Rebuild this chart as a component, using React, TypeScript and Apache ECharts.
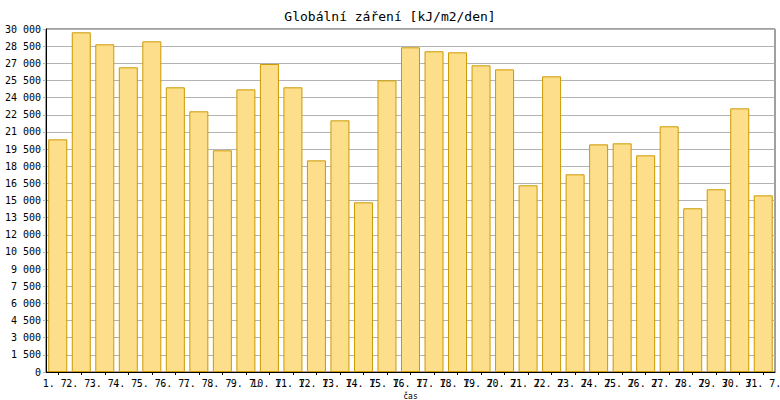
import React, { useEffect, useRef } from "react";
import * as echarts from "echarts";

const titleText = "Globální záření [kJ/m2/den]";
const axisName = "čas";
const days = [
  "1. 7.", "2. 7.", "3. 7.", "4. 7.", "5. 7.", "6. 7.", "7. 7.", "8. 7.", "9. 7.", "10. 7.",
  "11. 7.", "12. 7.", "13. 7.", "14. 7.", "15. 7.", "16. 7.", "17. 7.", "18. 7.", "19. 7.", "20. 7.",
  "21. 7.", "22. 7.", "23. 7.", "24. 7.", "25. 7.", "26. 7.", "27. 7.", "28. 7.", "29. 7.", "30. 7.", "31. 7.",
];
const radiation = [
  20350, 29710, 28660, 26650, 28920, 24900, 22800, 19390, 24720, 26940,
  24900, 18510, 22010, 14840, 25510, 28400, 28050, 27960, 26820, 26470,
  16330, 25860, 17290, 19910, 20000, 18950, 21490, 14320, 15980, 23060, 15450,
];
const yMin = 0;
const yMax = 30000;
const yStep = 1500;

const FONT = "'DejaVu Sans Mono', monospace";

export default function App() {
  const ref = useRef<HTMLDivElement>(null);
  useEffect(() => {
    if (!ref.current) return;
    const chart = echarts.init(ref.current, undefined, { renderer: "svg" });
    chart.setOption({
      animation: false,
      backgroundColor: "#ffffff",
      title: {
        text: titleText,
        left: "center",
        top: 5,
        textStyle: { fontFamily: FONT, fontSize: 13, fontWeight: "normal", color: "#000" },
      },
      grid: {
        left: 46,
        right: 5,
        top: 29,
        bottom: 28,
        show: true,
        borderColor: "#404040",
        borderWidth: 1,
        containLabel: false,
        outerBoundsMode: "none",
      },
      xAxis: {
        type: "category",
        data: days,
        name: axisName,
        nameLocation: "middle",
        nameGap: 18,
        nameTextStyle: { fontFamily: FONT, fontSize: 8, color: "#000" },
        axisLine: { show: true, lineStyle: { color: "#000", width: 1 } },
        axisTick: { show: true, alignWithLabel: true, length: 3, lineStyle: { color: "#000" } },
        axisLabel: {
          interval: 0,
          hideOverlap: false,
          margin: 6,
          fontFamily: FONT,
          fontSize: 10,
          color: "#000",
        },
        splitLine: { show: false },
      },
      yAxis: {
        type: "value",
        min: yMin,
        max: yMax,
        interval: yStep,
        axisLine: { show: true, lineStyle: { color: "#000", width: 1 } },
        axisTick: { show: true, length: 3, lineStyle: { color: "#b3b3b3" } },
        axisLabel: {
          margin: 5,
          fontFamily: FONT,
          fontSize: 10,
          color: "#000",
          formatter: (v: number) => String(v).replace(/\B(?=(\d{3})+(?!\d))/g, " "),
        },
        splitLine: { show: true, lineStyle: { color: "#b3b3b3", width: 1 } },
      },
      series: [
        {
          type: "bar",
          data: radiation,
          barWidth: 19,
          itemStyle: { color: "#fddf8b", borderColor: "#cc9900", borderWidth: 1 },
        },
      ],
    });
    return () => chart.dispose();
  }, []);
  return (
    <div
      ref={ref}
      style={{ position: "fixed", left: 0, top: 0, width: 780, height: 400 }}
    />
  );
}
